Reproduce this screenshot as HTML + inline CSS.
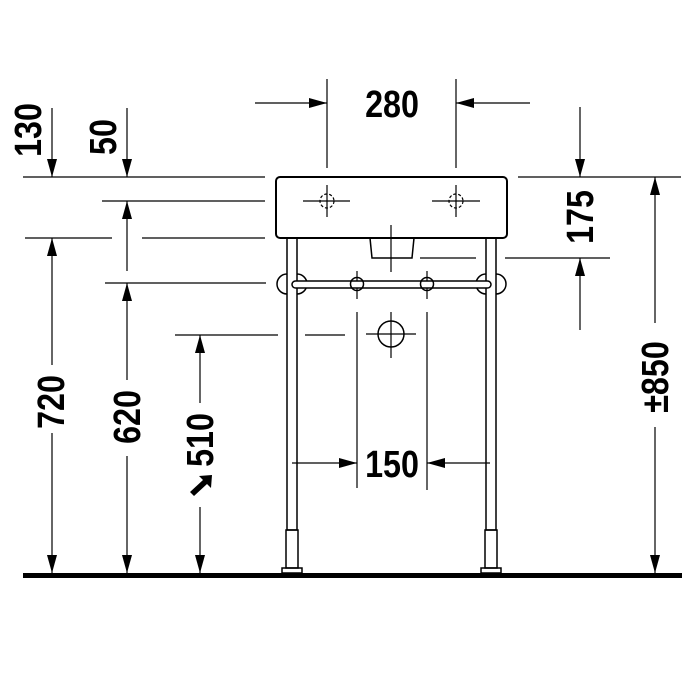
<!DOCTYPE html>
<html><head><style>html,body{margin:0;padding:0;background:#fff}svg{display:block}</style></head><body>
<svg width="700" height="700" viewBox="0 0 700 700" xmlns="http://www.w3.org/2000/svg">
<defs>
<marker id="a" viewBox="0 0 18 10" refX="18" refY="5" markerWidth="18" markerHeight="10" markerUnits="userSpaceOnUse" orient="auto"><path d="M0,0 L18,5 L0,10 Z" fill="#000"/></marker>
</defs>
<g stroke="#000" stroke-width="1.2" fill="none">
<!-- 280 -->
<line x1="327" y1="79" x2="327" y2="168"/><line x1="456" y1="79" x2="456" y2="168"/>
<line x1="255" y1="103" x2="327" y2="103" marker-end="url(#a)"/>
<line x1="530" y1="103" x2="456" y2="103" marker-end="url(#a)"/>
<!-- horizontal extension lines -->
<line x1="23" y1="177" x2="265" y2="177"/>
<line x1="102" y1="201" x2="265" y2="201"/>
<line x1="25" y1="238" x2="112" y2="238"/><line x1="142" y1="238" x2="265" y2="238"/>
<line x1="105" y1="283" x2="266" y2="283"/>
<line x1="175" y1="335" x2="278" y2="335"/><line x1="305" y1="335" x2="345" y2="335"/>
<line x1="518" y1="177" x2="681" y2="177"/>
<line x1="505" y1="258" x2="610" y2="258"/>
<!-- 130 / 50 -->
<line x1="52" y1="108" x2="52" y2="177" marker-end="url(#a)"/>
<line x1="127" y1="108" x2="127" y2="177" marker-end="url(#a)"/>
<line x1="127" y1="271" x2="127" y2="201" marker-end="url(#a)"/>
<!-- 720 -->
<line x1="52" y1="365" x2="52" y2="238" marker-end="url(#a)"/>
<line x1="52" y1="433" x2="52" y2="573" marker-end="url(#a)"/>
<!-- 620 -->
<line x1="127" y1="380" x2="127" y2="283" marker-end="url(#a)"/>
<line x1="127" y1="456" x2="127" y2="573" marker-end="url(#a)"/>
<!-- 510 -->
<line x1="200" y1="403" x2="200" y2="335" marker-end="url(#a)"/>
<line x1="200" y1="507" x2="200" y2="573" marker-end="url(#a)"/>
<!-- 175 -->
<line x1="580" y1="107" x2="580" y2="177" marker-end="url(#a)"/>
<line x1="580" y1="330" x2="580" y2="258" marker-end="url(#a)"/>
<!-- 850 -->
<line x1="655" y1="323" x2="655" y2="177" marker-end="url(#a)"/>
<line x1="655" y1="427" x2="655" y2="573" marker-end="url(#a)"/>
<!-- 150 -->
<line x1="357" y1="312" x2="357" y2="488"/><line x1="427" y1="312" x2="427" y2="490"/>
<line x1="292" y1="463" x2="357" y2="463" marker-end="url(#a)"/>
<line x1="490" y1="463" x2="427" y2="463" marker-end="url(#a)"/>
</g>
<!-- basin -->
<g stroke="#000" fill="none">
<rect x="276" y="177" width="231" height="61" rx="4" stroke-width="2"/>
<path d="M370,238 L372,258 L412,258 L414,238" stroke-width="1.5"/>
<g stroke-width="1.2">
<line x1="303" y1="201" x2="350" y2="201"/><line x1="327" y1="185" x2="327" y2="217"/>
<line x1="432" y1="201" x2="480" y2="201"/><line x1="456" y1="185" x2="456" y2="217"/>
<line x1="391" y1="225" x2="391" y2="272"/>
<line x1="420" y1="258" x2="476" y2="258"/>
<line x1="366" y1="334" x2="416" y2="334"/><line x1="391" y1="312" x2="391" y2="358"/>
<line x1="341" y1="284" x2="372" y2="284"/><line x1="357" y1="271" x2="357" y2="299"/>
<line x1="411" y1="284" x2="442" y2="284"/><line x1="427" y1="271" x2="427" y2="299"/>
</g>
<circle cx="327" cy="201" r="7" stroke-width="1.2" stroke-dasharray="3,2"/>
<circle cx="456" cy="201" r="7" stroke-width="1.2" stroke-dasharray="3,2"/>
<circle cx="391" cy="334" r="13" stroke-width="1.5"/>
<!-- legs -->
<g stroke-width="1.5">
<rect x="287" y="238" width="10" height="292"/>
<rect x="486" y="238" width="10" height="292"/>
<rect x="286" y="530" width="12" height="38"/>
<rect x="485" y="530" width="12" height="38"/>
<rect x="282" y="568" width="20" height="5"/>
<rect x="481" y="568" width="20" height="5"/>
<path d="M287,274 A10,10 0 0 0 287,294"/><path d="M297,274 A10,10 0 0 1 297,294"/>
<path d="M486,274 A10,10 0 0 0 486,294"/><path d="M496,274 A10,10 0 0 1 496,294"/>
<rect x="292" y="281" width="199" height="7" rx="3.5" fill="#fff"/>
<circle cx="357" cy="284" r="6.5"/><circle cx="427" cy="284" r="6.5"/>
</g>
</g>
<rect x="23" y="573" width="659" height="5" fill="#000"/>
<!-- labels -->
<g font-family="Liberation Sans, sans-serif" font-weight="bold" font-size="38" fill="#000" text-anchor="middle">
<text transform="translate(392,117) scale(0.85,1)">280</text>
<text transform="translate(392,477) scale(0.85,1)">150</text>
<text transform="translate(41,130) rotate(-90) scale(0.85,1)">130</text>
<text transform="translate(116,137) rotate(-90) scale(0.85,1)">50</text>
<text transform="translate(64,402) rotate(-90) scale(0.85,1)">720</text>
<text transform="translate(140,417) rotate(-90) scale(0.85,1)">620</text>
<text transform="translate(213,440) rotate(-90) scale(0.85,1)">510</text>
<text transform="translate(593,217) rotate(-90) scale(0.85,1)">175</text>
<text transform="translate(668,377) rotate(-90) scale(0.85,1)">±850</text>
</g>
<path d="M190,492 L203,480 L199,476 L212,475 L211,488 L207,484 L194,496 Z" fill="#000"/>
</svg>
</body></html>
